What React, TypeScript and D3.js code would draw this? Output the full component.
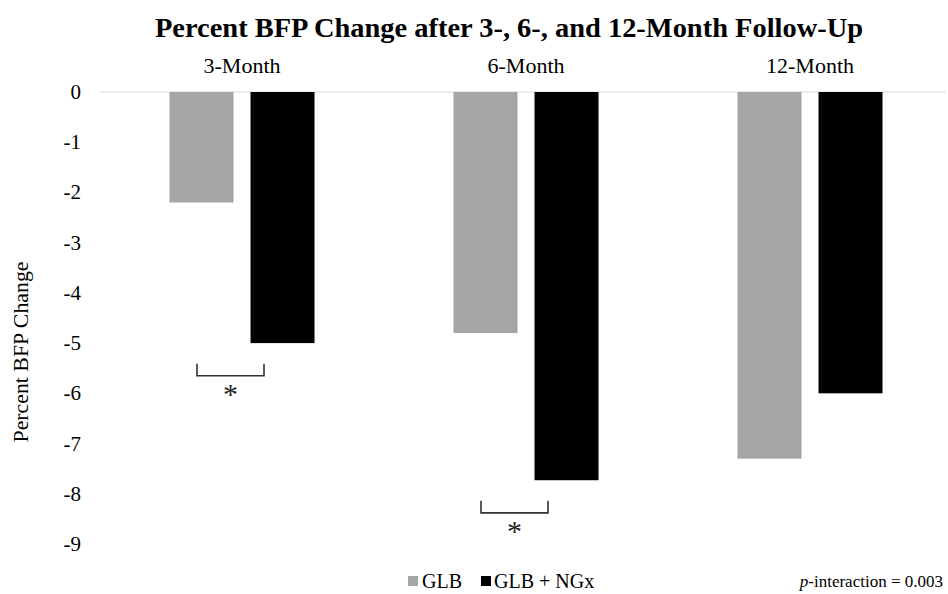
import React from "react";
import * as d3 from "d3";

const categories = ["3-Month", "6-Month", "12-Month"];
const seriesNames = ["GLB", "GLB + NGx"];
const glbValues = [-2.2, -4.8, -7.3];
const ngxValues = [-5.0, -7.73, -6.0];
const yTicks = [0, -1, -2, -3, -4, -5, -6, -7, -8, -9];
const sigCategories = ["3-Month", "6-Month"];
const sigLevels = [-5.65, -8.38];

const W = 948;
const H = 594;
const FONT = "'Liberation Serif', 'DejaVu Serif', serif";
const colors = ["#a5a5a5", "#000000"];

export default function App() {
  const x = d3.scaleBand<string>().domain(categories).range([100, 952]);
  const inner = d3
    .scaleBand<string>()
    .domain(seriesNames)
    .range([0, x.bandwidth()])
    .paddingInner(0.21)
    .paddingOuter(0.858);
  const y = d3.scaleLinear().domain([-9, 0]).range([544, 92]);
  const series = [glbValues, ngxValues];

  return (
    <svg width={W} height={H} style={{ position: "absolute", left: 0, top: 0, background: "#fff" }}>
      <rect x={0} y={0} width={W} height={H} fill="#fff" />
      <text
        x={509}
        y={37}
        textAnchor="middle"
        fontFamily={FONT}
        fontWeight="bold"
        fontSize={28}
        textLength={708}
        lengthAdjust="spacingAndGlyphs"
        fill="#000"
      >
        Percent BFP Change after 3-, 6-, and 12-Month Follow-Up
      </text>
      {categories.map((c) => (
        <text key={c} x={(x(c) as number) + x.bandwidth() / 2} y={73} textAnchor="middle" fontFamily={FONT} fontSize={22} fill="#000">
          {c}
        </text>
      ))}
      <line x1={100} x2={946} y1={y(0)} y2={y(0)} stroke="#d9d9d9" strokeWidth={1} />
      {yTicks.map((t) => (
        <text key={t} x={81} y={y(t) + 7} textAnchor="end" fontFamily={FONT} fontSize={21} fill="#000">
          {t}
        </text>
      ))}
      <text
        transform={`translate(28,${352}) rotate(-90)`}
        textAnchor="middle"
        fontFamily={FONT}
        fontSize={21}
        textLength={181}
        lengthAdjust="spacingAndGlyphs"
        fill="#000"
      >
        Percent BFP Change
      </text>
      {series.map((vals, si) =>
        categories.map((c, ci) => (
          <rect
            key={`${si}-${ci}`}
            x={(x(c) as number) + (inner(seriesNames[si]) as number)}
            y={y(0)}
            width={inner.bandwidth()}
            height={y(vals[ci]) - y(0)}
            fill={colors[si]}
          />
        ))
      )}
      {sigCategories.map((c, i) => {
        const cx = (x(c) as number) + x.bandwidth() / 2;
        const x0 = cx - 45;
        const x1 = cx + 22;
        const yb = y(sigLevels[i]);
        return (
          <g key={c}>
            <path d={`M${x0},${yb - 12} L${x0},${yb} L${x1},${yb} L${x1},${yb - 12}`} fill="none" stroke="#333" strokeWidth={1.6} />
            <text x={(x0 + x1) / 2} y={yb + 28} textAnchor="middle" fontFamily={FONT} fontSize={30} fill="#222">
              *
            </text>
          </g>
        );
      })}
      <g fontFamily={FONT} fontSize={20} fill="#000">
        <rect x={408} y={576} width={10} height={10} fill={colors[0]} />
        <text x={422} y={588}>GLB</text>
        <rect x={481} y={576} width={10} height={10} fill={colors[1]} />
        <text x={494} y={588}>GLB + NGx</text>
        <text x={943} y={587} textAnchor="end" fontSize={17}>
          <tspan fontStyle="italic">p</tspan>-interaction = 0.003
        </text>
      </g>
    </svg>
  );
}
